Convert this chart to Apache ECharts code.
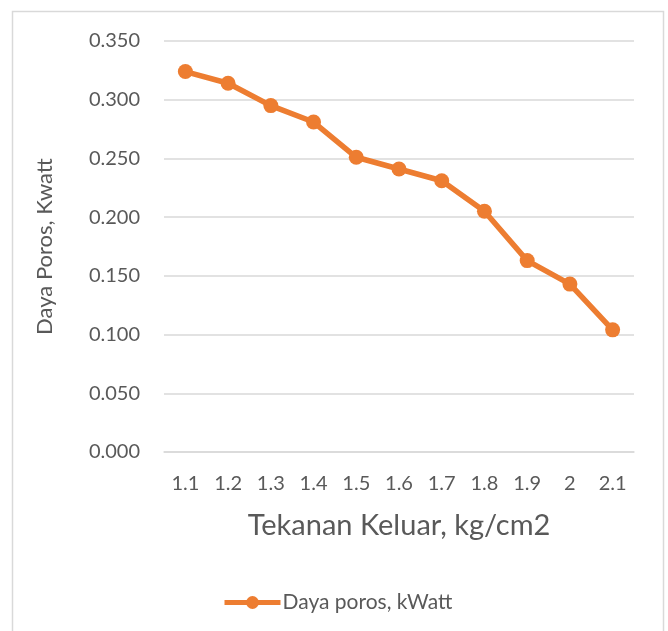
<!DOCTYPE html>
<html>
<head>
<meta charset="utf-8">
<script src="https://cdn.jsdelivr.net/npm/echarts@6/dist/echarts.min.js"></script>
<style>
html,body{margin:0;padding:0;background:#fff;}
#chart{width:668px;height:631px;}
</style>
</head>
<body>
<div id="chart"></div>
<script>
const categories = ['1.1','1.2','1.3','1.4','1.5','1.6','1.7','1.8','1.9','2','2.1'];
const dayaPoros = [0.324,0.314,0.295,0.281,0.251,0.241,0.231,0.205,0.163,0.143,0.104];
const seriesName = 'Daya poros, kWatt';
const xTitle = 'Tekanan Keluar, kg/cm2';
const yTitle = 'Daya Poros, Kwatt';

const FONT = 'Lato';
const TXT = '#595959';
const GRID = '#d9d9d9';
const ORANGE = '#ED7D31';

const chart = echarts.init(document.getElementById('chart'), null, {renderer:'canvas'});
chart.setOption({
  animation:false,
  backgroundColor:'#fff',
  textStyle:{fontFamily:FONT},
  graphic:[{
    type:'rect',
    shape:{x:12.5,y:11.5,width:651,height:640},
    style:{fill:'none',stroke:GRID,lineWidth:1.5},
    silent:true,z:-1
  }],
  grid:{left:164,right:34,top:41,bottom:179,containLabel:false},
  legend:{
    data:[seriesName],
    left:217, top:587,
    itemWidth:56, itemHeight:16, itemGap:5,
    lineStyle:{width:5},
    textStyle:{color:TXT,fontSize:21,fontFamily:FONT,padding:[0,0,0,-3]}
  },
  xAxis:{
    type:'category',
    data:categories,
    boundaryGap:true,
    axisLine:{show:true,lineStyle:{color:GRID,width:1.5}},
    axisTick:{show:false},
    axisLabel:{color:TXT,fontSize:20,fontFamily:FONT,margin:22},
    name:xTitle,
    nameLocation:'middle',
    nameGap:59,
    nameTextStyle:{color:TXT,fontSize:29,fontFamily:FONT}
  },
  yAxis:{
    type:'value',
    min:0,max:0.35,interval:0.05,
    axisLine:{show:false},
    axisTick:{show:false},
    splitLine:{lineStyle:{color:GRID,width:1.5}},
    axisLabel:{color:TXT,fontSize:20,fontFamily:FONT,margin:24,formatter:v=>v.toFixed(3)},
    name:yTitle,
    nameLocation:'middle',
    nameGap:108,
    nameRotate:90,
    nameTextStyle:{color:TXT,fontSize:22,fontFamily:FONT}
  },
  series:[{
    name:seriesName,
    type:'line',
    data:dayaPoros,
    symbol:'circle',
    symbolSize:15,
    itemStyle:{color:ORANGE},
    lineStyle:{color:ORANGE,width:5.5}
  }]
});
</script>
</body>
</html>
